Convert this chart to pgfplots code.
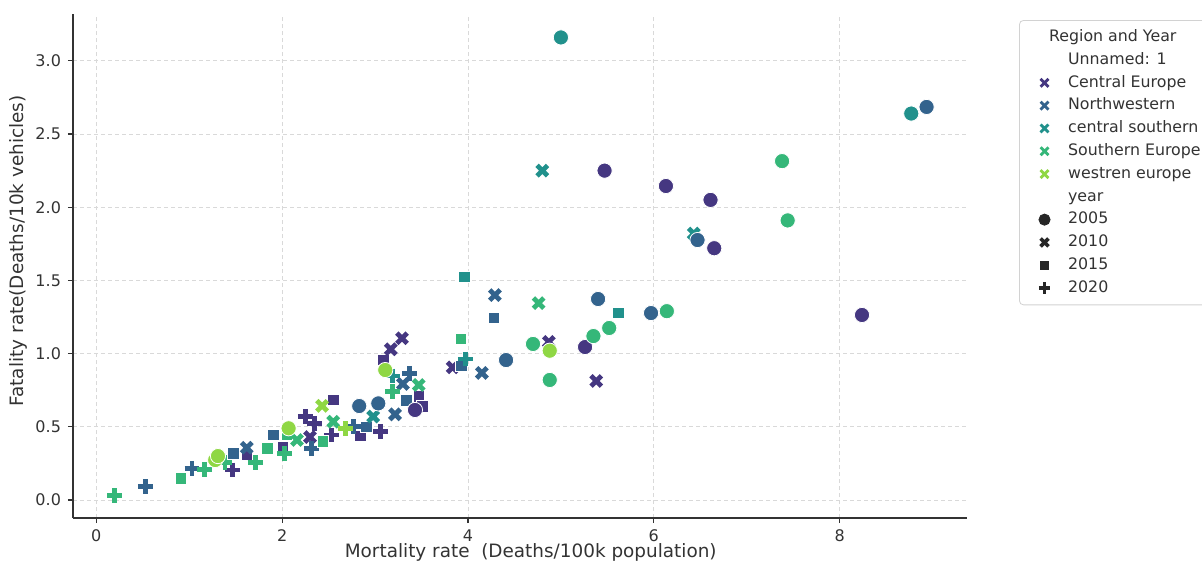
\documentclass[border=0pt]{standalone}
\usepackage{pgfplots}
\pgfplotsset{compat=1.18}
\usepackage{fontspec}
\setmainfont{DejaVu Sans}
\definecolor{ce}{RGB}{69,55,129}
\definecolor{nw}{RGB}{51,99,141}
\definecolor{cs}{RGB}{33,145,140}
\definecolor{se}{RGB}{53,183,121}
\definecolor{we}{RGB}{143,215,68}
\definecolor{txt}{RGB}{51,51,51}
\pgfplotsset{
 circ/.style={only marks, mark=*, mark size=3.8pt, mark options={draw=white, line width=0.4pt}},
 xm/.style={only marks, mark=x, mark size=3.7pt, mark options={line width=2.4pt}},
 sq/.style={only marks, mark=square*, mark size=2.9pt, mark options={draw=white, line width=0.4pt}},
 pl/.style={only marks, mark=+, mark size=3.7pt, mark options={line width=2.4pt}},
}
\begin{document}
\begin{tikzpicture}
\begin{axis}[
  at={(36.5pt,23pt)}, anchor=south west,
  scale only axis, width=447pt, height=252pt,
  xmin=-0.25, xmax=9.37, ymin=-0.123, ymax=3.32,
  axis x line*=bottom, axis y line*=left,
  axis line style={black!80, line width=0.8pt},
  xtick={0,2,4,6,8}, ytick={0,0.5,1,1.5,2,2.5,3},
  yticklabel style={/pgf/number format/.cd, fixed, fixed zerofill, precision=1},
  /pgf/number format/assume math mode=true,
  tick align=outside, major tick length=2.5pt,
  tick style={black!80, line width=0.6pt},
  ticklabel style={font=\fontsize{8}{9}\selectfont, text=txt},
  grid=major, major grid style={dash pattern=on 2pt off 1.5pt, gray!30, line width=0.4pt},
  xlabel={Mortality rate\ \ (Deaths/100k population)},
  ylabel={Fatality rate(Deaths/10k vehicles)},
  label style={font=\fontsize{9.2}{11}\selectfont, text=txt},
  xlabel style={at={(axis description cs:0.512,-0.069)}, anchor=center},
  ylabel style={at={(axis description cs:-0.0615,0.53)}, anchor=center},
  legend style={at={(1.0582,0.988)}, anchor=north west, draw=gray!35, rounded corners=2pt,
    font=\fontsize{7.9}{9.5}\selectfont, text=txt, row sep=0.6pt, column sep=7pt,
    inner xsep=4pt, inner ysep=3pt,
    nodes={text height=6pt, text depth=1.8pt, inner ysep=1.5pt},
    cells={anchor=west}},
  legend cell align=left,
  clip=false,
]
\addlegendimage{empty legend}
\addlegendimage{empty legend}
\addlegendimage{only marks, mark=x, mark size=2.8pt, color=ce, line width=1.4pt}
\addlegendimage{only marks, mark=x, mark size=2.8pt, color=nw, line width=1.4pt}
\addlegendimage{only marks, mark=x, mark size=2.8pt, color=cs, line width=1.4pt}
\addlegendimage{only marks, mark=x, mark size=2.8pt, color=se, line width=1.4pt}
\addlegendimage{only marks, mark=x, mark size=2.8pt, color=we, line width=1.4pt}
\addlegendimage{empty legend}
\addlegendimage{only marks, mark=*, mark size=2.8pt, color=black!85}
\addlegendimage{only marks, mark=x, mark size=2.8pt, color=black!85, line width=1.8pt}
\addlegendimage{only marks, mark=square*, mark size=2.1pt, color=black!85}
\addlegendimage{only marks, mark=+, mark size=2.8pt, color=black!85, line width=1.8pt}
\legend{\hspace*{-9.5pt}Region and Year, Unnamed: 1, Central Europe, Northwestern, central southern, Southern Europe, westren europe, year, 2005, 2010, 2015, 2020}
% Central Europe
\addplot[sq, color=ce, forget plot] coordinates {(3.09,0.956) (3.47,0.706) (3.51,0.64) (2.55,0.683) (2.84,0.437) (2.01,0.364) (1.62,0.307)};
\addplot[pl, color=ce, forget plot] coordinates {(2.25,0.57) (2.35,0.524) (3.06,0.467) (2.53,0.444) (1.465,0.205)};
\addplot[xm, color=ce, forget plot] coordinates {(4.87,1.08) (5.38,0.813) (3.835,0.906) (3.29,1.105) (3.17,1.03) (2.30,0.43)};
% Northwestern
\addplot[sq, color=nw, forget plot] coordinates {(4.28,1.243) (3.93,0.915) (3.34,0.68) (2.91,0.50) (1.905,0.444) (1.475,0.32)};
\addplot[pl, color=nw, forget plot] coordinates {(3.37,0.866) (2.77,0.50) (2.32,0.353) (1.03,0.217) (0.527,0.091)};
\addplot[xm, color=nw, forget plot] coordinates {(4.29,1.40) (4.15,0.868) (3.30,0.793) (3.215,0.585) (1.62,0.357)};
% central southern
\addplot[sq, color=cs, forget plot] coordinates {(3.96,1.523) (5.62,1.277)};
\addplot[pl, color=cs, forget plot] coordinates {(3.97,0.963) (3.19,0.847)};
\addplot[xm, color=cs, forget plot] coordinates {(4.80,2.25) (6.43,1.82) (2.98,0.57)};
% Southern Europe
\addplot[sq, color=se, forget plot] coordinates {(3.925,1.10) (2.05,0.45) (2.44,0.40) (1.845,0.353) (0.91,0.148)};
\addplot[pl, color=se, forget plot] coordinates {(3.19,0.74) (2.03,0.32) (1.71,0.255) (1.385,0.255) (1.165,0.21) (0.197,0.029)};
\addplot[xm, color=se, forget plot] coordinates {(4.76,1.345) (3.47,0.786) (2.55,0.535) (2.16,0.41)};
% westren europe
\addplot[pl, color=we, forget plot] coordinates {(2.68,0.49)};
\addplot[xm, color=we, forget plot] coordinates {(2.43,0.643)};
\addplot[circ, color=we, forget plot] coordinates {(4.88,1.02) (3.11,0.888) (2.07,0.49) (1.28,0.273) (1.31,0.30)};
% circles 2005
\addplot[circ, color=ce, forget plot] coordinates {(5.47,2.25) (6.13,2.145) (6.61,2.05) (6.65,1.72) (8.24,1.264) (5.26,1.045) (3.43,0.615)};
\addplot[circ, color=nw, forget plot] coordinates {(8.935,2.685) (6.47,1.776) (5.40,1.373) (5.97,1.277) (4.41,0.956) (2.83,0.642) (3.035,0.66)};
\addplot[circ, color=cs, forget plot] coordinates {(5.0,3.16) (8.77,2.64)};
\addplot[circ, color=se, forget plot] coordinates {(7.38,2.315) (7.44,1.91) (6.14,1.29) (5.52,1.175) (5.35,1.12) (4.70,1.066) (4.88,0.82)};
\end{axis}
\pgfresetboundingbox
\useasboundingbox (0,0) rectangle (601pt,282pt);
\end{tikzpicture}
\end{document}
